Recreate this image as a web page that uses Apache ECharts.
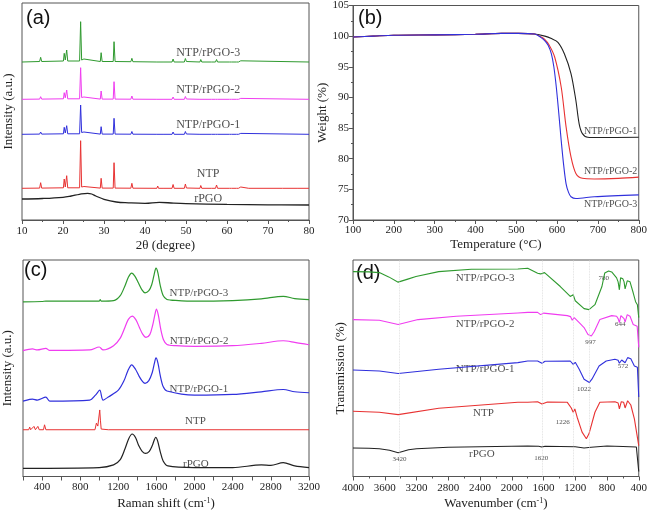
<!DOCTYPE html>
<html><head><meta charset="utf-8">
<script src="https://cdn.jsdelivr.net/npm/echarts/dist/echarts.min.js"></script>
<style>html,body{margin:0;padding:0;background:#fff}#c{width:650px;height:511px}</style>
</head><body><div id="c"></div><script>
// ---------- (a) XRD ----------
const xrdNTP3 = [[10,158],[14.3,158.5],[14.55,162.7],[14.8,158.5],[20.1,159],[20.3,166.7],[20.55,160],[20.9,170],[21.15,159],[24.05,159],[24.3,198.3],[24.55,160],[25,159.5],[25.1,161],[25.3,159],[29.1,158.5],[29.3,167.3],[29.55,158.5],[32.25,158.5],[32.45,178.3],[32.7,158.5],[36.55,158.3],[36.8,161.7],[37.05,158.3],[42.9,158],[43.1,159.8],[43.3,158],[44.4,158],[44.6,159.5],[44.8,158],[46.6,158],[46.85,161],[47.1,158],[49.6,158],[49.85,161.5],[50.1,158.5],[53.4,158],[53.6,160.5],[53.85,158],[56.2,158],[56.4,159.5],[56.6,158],[57.2,158],[57.45,160.5],[57.7,158],[60.6,158],[60.85,159.3],[61.1,158],[62.3,158],[62.55,159.5],[62.8,158],[63.1,158],[63.35,159.2],[63.6,158],[80,158]];
const xrdNTP2 = [[10,120.7],[14.3,120.9],[14.55,123.3],[14.8,120.9],[20.1,121.2],[20.3,127.3],[20.55,122.2],[20.9,130],[21.15,121.2],[24.05,121.2],[24.3,152.3],[24.55,122.5],[25,121.8],[25.1,123],[25.3,121.2],[29.1,120.9],[29.3,129],[29.55,120.9],[32.25,120.9],[32.45,138.3],[32.7,120.9],[36.55,120.8],[36.8,124],[37.05,120.8],[42.9,120.7],[43.1,122],[43.3,120.7],[44.4,120.7],[44.6,121.8],[44.8,120.7],[46.6,120.7],[46.85,123],[47.1,120.7],[49.6,120.7],[49.85,123.5],[50.1,121],[53.4,120.7],[53.6,122.5],[53.85,120.7],[56.2,120.7],[56.4,121.8],[56.6,120.7],[57.2,120.7],[57.45,122.5],[57.7,120.7],[60.6,120.7],[60.85,121.8],[61.1,120.7],[62.3,120.7],[62.55,122],[62.8,120.7],[63.1,120.7],[63.35,121.6],[63.6,120.7],[80,120.7]];
const xrdNTP1 = [[10,85.7],[14.3,85.9],[14.55,88],[14.8,85.9],[20.1,86.2],[20.3,92.7],[20.55,87],[20.9,94.3],[21.15,86.2],[24.05,86.2],[24.3,115],[24.55,87.5],[25,86.8],[25.1,88],[25.3,86.2],[29.1,85.9],[29.3,93.3],[29.55,85.9],[32.25,85.9],[32.45,101.7],[32.7,85.9],[36.55,85.8],[36.8,88.5],[37.05,85.8],[42.9,85.7],[43.1,87],[43.3,85.7],[44.4,85.7],[44.6,86.8],[44.8,85.7],[46.6,85.7],[46.85,88],[47.1,85.7],[49.6,85.7],[49.85,88.5],[50.1,86],[53.4,85.7],[53.6,87.5],[53.85,85.7],[56.2,85.7],[56.4,86.8],[56.6,85.7],[57.2,85.7],[57.45,87.5],[57.7,85.7],[60.6,85.7],[60.85,86.8],[61.1,85.7],[62.3,85.7],[62.55,87],[62.8,85.7],[63.1,85.7],[63.35,86.6],[63.6,85.7],[80,85.7]];
const xrdNTP = [[10,31.7],[14.3,31.9],[14.55,37.3],[14.8,31.9],[20.1,32.2],[20.3,41],[20.55,33],[20.9,44.3],[21.15,32.2],[24.05,32.2],[24.3,79.3],[24.55,33],[25,32.2],[25.1,33.5],[25.3,32],[29.1,31.9],[29.3,41.7],[29.55,31.9],[32.25,31.9],[32.45,57.3],[32.7,31.9],[36.55,31.8],[36.8,36.7],[37.05,31.8],[42.9,31.7],[43.1,34],[43.3,31.7],[44.4,31.7],[44.6,33.5],[44.8,31.7],[46.6,31.7],[46.85,35.5],[47.1,31.7],[49.6,31.7],[49.85,36],[50.1,32],[53.4,31.7],[53.6,34.5],[53.85,31.7],[56.2,31.7],[56.4,33.2],[56.6,31.7],[57.2,31.7],[57.45,35],[57.7,31.7],[60.6,31.7],[60.85,33],[61.1,31.7],[62.3,31.7],[62.55,33.5],[62.8,31.7],[63.1,31.7],[63.35,33],[63.6,31.7],[65.3,31.7],[65.5,32.5],[65.7,31.7],[73.5,31.7],[73.7,32.8],[73.9,31.7],[77.3,31.7],[77.5,32.4],[77.7,31.7],[80,31.7]];
const xrdRPGO = [[10,21],[15,21.5],[20,22.7],[22,24],[24,25.7],[26,26.7],[27,26],[28,24],[30,20.7],[33,18],[36,17.2],[40,16.7],[43.5,17.7],[47,16.8],[50,16.3],[60,15.6],[70,15.2],[80,15]];
const xrdLabels = [[55.4,167,'NTP/rPGO-3'],[55.4,130,'NTP/rPGO-2'],[55.4,95,'NTP/rPGO-1'],[55.4,46,'NTP'],[55.4,21,'rPGO']];

// ---------- (b) TGA ----------
const tgaNTP1 = [[100,99.85],[150,100.0],[200,100.15],[300,100.2],[400,100.3],[464,100.45],[505,100.45],[545,100.35],[570,100.0],[586,99.6],[602,99.0],[618,97.1],[634,93.9],[646,89.5],[654,85.7],[662,84.1],[675,83.5],[700,83.45],[800,83.5]];
const tgaNTP2 = [[100,99.85],[150,100.0],[200,100.15],[300,100.2],[400,100.3],[464,100.45],[505,100.45],[545,100.35],[560,99.9],[569,99.5],[580,98.6],[594,96.6],[610,91.7],[622,85.2],[634,80.3],[646,77.6],[662,76.8],[691,76.7],[750,76.8],[800,77.0]];
const tgaNTP3 = [[100,99.85],[150,100.0],[200,100.15],[300,100.2],[400,100.3],[464,100.45],[505,100.45],[545,100.35],[560,99.8],[569,99.3],[578,98.5],[586,97.1],[592,95],[598,91.7],[604,87.5],[610,83.0],[616,79],[622,75.9],[628,74.5],[634,73.8],[646,73.5],[691,73.8],[800,74.1]];
const tgaLabels = [[731,84.5,'NTP/rPGO-1'],[731,77.9,'NTP/rPGO-2'],[731,72.55,'NTP/rPGO-3']];

// ---------- (c) Raman ----------
const ramanNTP3 = [[200,176.7],[400,177],[440,177.5],[1000,177.5],[1010,179],[1020,177.5],[1150,178],[1220,183],[1270,193],[1305,201.5],[1340,205.7],[1375,202.5],[1410,196],[1450,188.5],[1480,185.7],[1520,188],[1550,194],[1575,204],[1595,210.7],[1615,206],[1640,193],[1670,183],[1710,179],[1750,178.5],[2000,177.3],[2400,178],[2700,179.7],[2930,182.3],[3050,180],[3200,179]];
const ramanNTP2 = [[200,127.3],[300,129],[350,128],[440,129.7],[480,127.5],[900,128],[1000,131],[1040,128],[1150,132.3],[1220,140],[1270,151],[1305,159],[1345,162.3],[1385,158.5],[1420,151],[1455,144],[1490,140.7],[1530,143.5],[1560,153],[1582,163],[1600,169.3],[1620,163],[1645,149],[1675,138],[1710,133.5],[1800,132.3],[2000,131.7],[2400,132.3],[2700,134.7],[2930,137.3],[3050,135.7],[3200,133.3]];
const ramanNTP1 = [[200,76.3],[270,78],[300,78.3],[350,77.3],[440,80.3],[480,76.3],[900,77.3],[960,82.3],[1005,87.3],[1040,77.3],[1100,80.7],[1200,87.3],[1260,97],[1300,107],[1340,113],[1380,108.5],[1420,101],[1455,96],[1480,94.3],[1520,97],[1555,105],[1578,114.5],[1595,120],[1615,115],[1640,102],[1670,91],[1710,86.5],[2000,82.3],[2400,83],[2700,85.7],[2930,88],[3050,85.7],[3200,84.7]];
const ramanNTP = [[200,47.3],[260,47.3],[270,50],[280,47.3],[300,47.3],[315,50.7],[330,47.3],[345,47.3],[356,50.7],[370,47.3],[415,47.3],[426,52.3],[440,47.3],[955,47.3],[970,54],[985,51],[995,52],[1005,67.3],[1012,57],[1020,48],[1095,47.3],[1104,49],[1112,47.3],[3200,47.3]];
const ramanRPGO = [[200,8.3],[1000,9],[1150,11.7],[1220,17],[1270,28],[1310,38.5],[1345,43],[1380,39.5],[1415,31],[1450,25.5],[1485,23.3],[1525,25.5],[1555,31],[1575,36.5],[1592,39.7],[1612,36],[1640,25],[1670,15.7],[1720,10.7],[2000,9],[2400,9],[2700,11.7],[2800,11.3],[2930,14],[3050,10.7],[3200,9]];
const ramanLabels = [[2045,185.7,'NTP/rPGO-3'],[2047,137.3,'NTP/rPGO-2'],[2045,88,'NTP/rPGO-1'],[2008,55.7,'NTP'],[2013,13,'rPGO']];

// ---------- (d) FTIR ----------
const ftirNTP3 = [[4000,206.3],[3800,206],[3668,205.3],[3550,201],[3431,195.7],[3300,199],[3207,201.3],[2920,206.3],[2509,208.7],[1923,209],[1799,209.7],[1674,204.7],[1637,204],[1587,205.3],[1388,191.3],[1263,181.3],[1226,183],[1200,177],[1176,175],[1089,169],[1027,168],[952,173],[865,191],[828,205],[780,207],[741,206],[679,200],[660,196],[644,188],[629,200],[600,199],[585,196],[572,189],[545,197],[510,196],[470,185],[440,176],[417,173],[400,160]];
const ftirNTP2 = [[4000,158],[3668,157.3],[3431,153],[3180,158],[2700,161.3],[1923,164.7],[1799,165.3],[1674,165.3],[1637,163],[1600,164.5],[1300,162],[1260,161],[1238,157.3],[1213,160],[1150,155],[1089,150],[1040,143],[997,141.5],[960,146],[890,158],[741,162],[679,161.3],[660,159],[644,155],[625,162],[600,161.3],[585,159],[572,155.5],[545,163],[510,161.3],[470,153],[420,151.3],[400,130]];
const ftirNTP1 = [[4000,107.3],[3668,106.3],[3431,103.7],[2920,108],[1923,114.7],[1799,116.3],[1674,116.3],[1620,114],[1580,116],[1263,116.3],[1226,113],[1200,115],[1150,108],[1089,98],[1022,94.7],[990,98],[900,111.3],[810,116.3],[700,118],[660,117],[644,114],[615,117.3],[590,117],[572,114.5],[540,119.7],[500,118.5],[455,111.3],[417,110],[400,80]];
const ftirNTP = [[4000,65.7],[3668,64.7],[3431,62.3],[2920,68.7],[1923,74.7],[1799,74.7],[1674,75.3],[1620,73],[1550,75],[1300,74.7],[1250,69],[1226,64.7],[1205,68],[1176,59.7],[1114,44.7],[1060,38],[1027,43],[952,64.7],[890,74.7],[700,75.3],[660,74],[644,68],[620,75.3],[590,74.7],[572,69],[540,76.3],[500,72],[455,58],[430,56.3],[400,31]];
const ftirRPGO = [[4000,28.7],[3800,28.5],[3668,28],[3540,26.5],[3431,24],[3300,27],[3200,28],[2800,29.5],[2000,30.5],[1799,30.7],[1660,30.5],[1620,29.7],[1580,30.5],[1200,30],[1089,28.7],[1000,29.5],[800,30.7],[600,30.2],[430,29.7],[400,5]];
const ftirLabels = [[2335,199.7,'NTP/rPGO-3'],[2335,153,'NTP/rPGO-2'],[2335,108.3,'NTP/rPGO-1'],[2356,64,'NTP'],[2377,23,'rPGO']];
const ftirPeakLabels = [[840,199.7,'780'],[633,153,'644'],[1007,135.3,'997'],[599,110.7,'572'],[1089,88,'1022'],[1359,54.7,'1226'],[3414,17.3,'3420'],[1629,18,'1620']];
const ftirGuides = [3420,1620,1226,1022];

const SERIF = "'Liberation Serif','Times New Roman',serif";
const C = {green:'#2f9a2f', magenta:'#f03cf0', blue:'#3030dc', red:'#e83232', black:'#222222'};
const AX = '#555';

function xAx(gi, min, max, interval, name, nameGap, labelMargin, extra) {
  return Object.assign({
    type:'value', gridIndex:gi, min, max, interval,
    axisLine:{show:true, onZero:false, lineStyle:{color:AX}},
    axisTick:{show:true, length:4, lineStyle:{color:AX}},
    minorTick:{show:true, splitNumber:2, length:2, lineStyle:{color:AX}},
    splitLine:{show:false},
    axisLabel:{fontFamily:SERIF, fontSize:11, color:'#222', margin:labelMargin, formatter:v => String(v)},
    name, nameLocation:'middle', nameGap,
    nameTextStyle:{fontFamily:SERIF, fontSize:13, color:'#222',
      rich:{sup:{fontFamily:SERIF, fontSize:8, color:'#222', verticalAlign:'top', padding:[0,0,6,0]}}}
  }, extra || {});
}
function yAx(gi, min, max, name, nameGap, extra) {
  return Object.assign({
    type:'value', gridIndex:gi, min, max,
    axisLine:{show:false}, axisTick:{show:false}, axisLabel:{show:false},
    splitLine:{show:false},
    name, nameLocation:'middle', nameGap, nameRotate:90,
    nameTextStyle:{fontFamily:SERIF, fontSize:13, color:'#222'}
  }, extra || {});
}
function line(gi, data, color, w, smooth) {
  return {type:'line', xAxisIndex:gi, yAxisIndex:gi, data, showSymbol:false, symbol:'none',
    smooth: smooth || false,
    lineStyle:{color, width:w||1.1}, silent:true, animation:false};
}
function labels(gi, arr, size) {
  return {type:'scatter', xAxisIndex:gi, yAxisIndex:gi, symbolSize:0, silent:true, animation:false,
    data: arr.map(a => ({value:[a[0],a[1]], name:a[2]})),
    label:{show:true, position:'inside', formatter:'{b}', fontFamily:SERIF, fontSize:size, color:'#222'}};
}

const grid = (left, top, width, height) => ({left, top, width, height, show:true, borderColor:AX, borderWidth:1});

const option = {
  animation:false,
  backgroundColor:'#fff',
  grid:[grid(22,3,287,217), grid(353,5,289,215), grid(22,260,287,219), grid(353,260,289,218)],
  xAxis:[
    xAx(0, 10, 80, 10, '2θ (degree)', 19, 6),
    xAx(1, 100, 800, 100, 'Temperature (°C)', 18, 5),
    xAx(2, 200, 3200, 200, 'Raman shift (cm{sup|-1})', 20, 5,
        {axisLabel:{fontFamily:SERIF, fontSize:11, color:'#222', margin:5, formatter:v => (v % 400 === 0 ? String(v) : '')},
         minorTick:{show:false}}),
    xAx(3, 400, 4000, 400, 'Wavenumber (cm{sup|-1})', 20, 6, {inverse:true})
  ],
  yAxis:[
    yAx(0, 0, 217, 'Intensity (a.u.)', 7),
    yAx(1, 70, 105, 'Weight (%)', 18, {interval:5,
      axisLine:{show:true, lineStyle:{color:AX}},
      axisTick:{show:true, length:4, lineStyle:{color:AX}},
      minorTick:{show:true, splitNumber:2, length:2, lineStyle:{color:AX}},
      axisLabel:{show:true, fontFamily:SERIF, fontSize:11, color:'#222', margin:4}}),
    yAx(2, 0, 219, 'Intensity (a.u.)', 9),
    yAx(3, 0, 218, 'Transmission (%)', 6)
  ],
  graphic:[
    {type:'text', left:26, top:8, style:{text:'(a)', font:'20px "Liberation Sans", Arial, sans-serif', fill:'#111'}},
    {type:'text', left:358, top:8, style:{text:'(b)', font:'20px "Liberation Sans", Arial, sans-serif', fill:'#111'}},
    {type:'text', left:24, top:260, style:{text:'(c)', font:'20px "Liberation Sans", Arial, sans-serif', fill:'#111'}},
    {type:'text', left:356, top:263, style:{text:'(d)', font:'20px "Liberation Sans", Arial, sans-serif', fill:'#111'}}
  ],
  series:[
    line(0, xrdRPGO, C.black, 1.3, 0.4),
    line(0, xrdNTP, C.red, 1),
    line(0, xrdNTP1, C.blue, 1),
    line(0, xrdNTP2, C.magenta, 1),
    line(0, xrdNTP3, C.green, 1),
    labels(0, xrdLabels, 12),

    line(1, tgaNTP1, C.black, 1.1, 0.3),
    line(1, tgaNTP2, C.red, 1.1, 0.3),
    line(1, tgaNTP3, C.blue, 1.1, 0.3),
    labels(1, tgaLabels, 10),

    line(2, ramanRPGO, C.black, 1.2, 0.3),
    line(2, ramanNTP, C.red, 1),
    line(2, ramanNTP1, C.blue, 1.2, 0.3),
    line(2, ramanNTP2, C.magenta, 1.2, 0.3),
    line(2, ramanNTP3, C.green, 1.2, 0.3),
    labels(2, ramanLabels, 11),

    Object.assign(line(3, ftirRPGO, C.black, 1.1), {
      markLine:{silent:true, symbol:'none', animation:false, label:{show:false},
        lineStyle:{color:'#d8d8d8', type:'dotted', width:0.8},
        data: ftirGuides.map(v => ({xAxis:v}))}
    }),
    line(3, ftirNTP, C.red, 1.1),
    line(3, ftirNTP1, C.blue, 1.1),
    line(3, ftirNTP2, C.magenta, 1.1),
    line(3, ftirNTP3, C.green, 1.1),
    labels(3, ftirLabels, 11),
    labels(3, ftirPeakLabels, 7)
  ]
};
const chart = echarts.init(document.getElementById('c'), null, {renderer:'canvas'});
chart.setOption(option);
</script></body></html>
